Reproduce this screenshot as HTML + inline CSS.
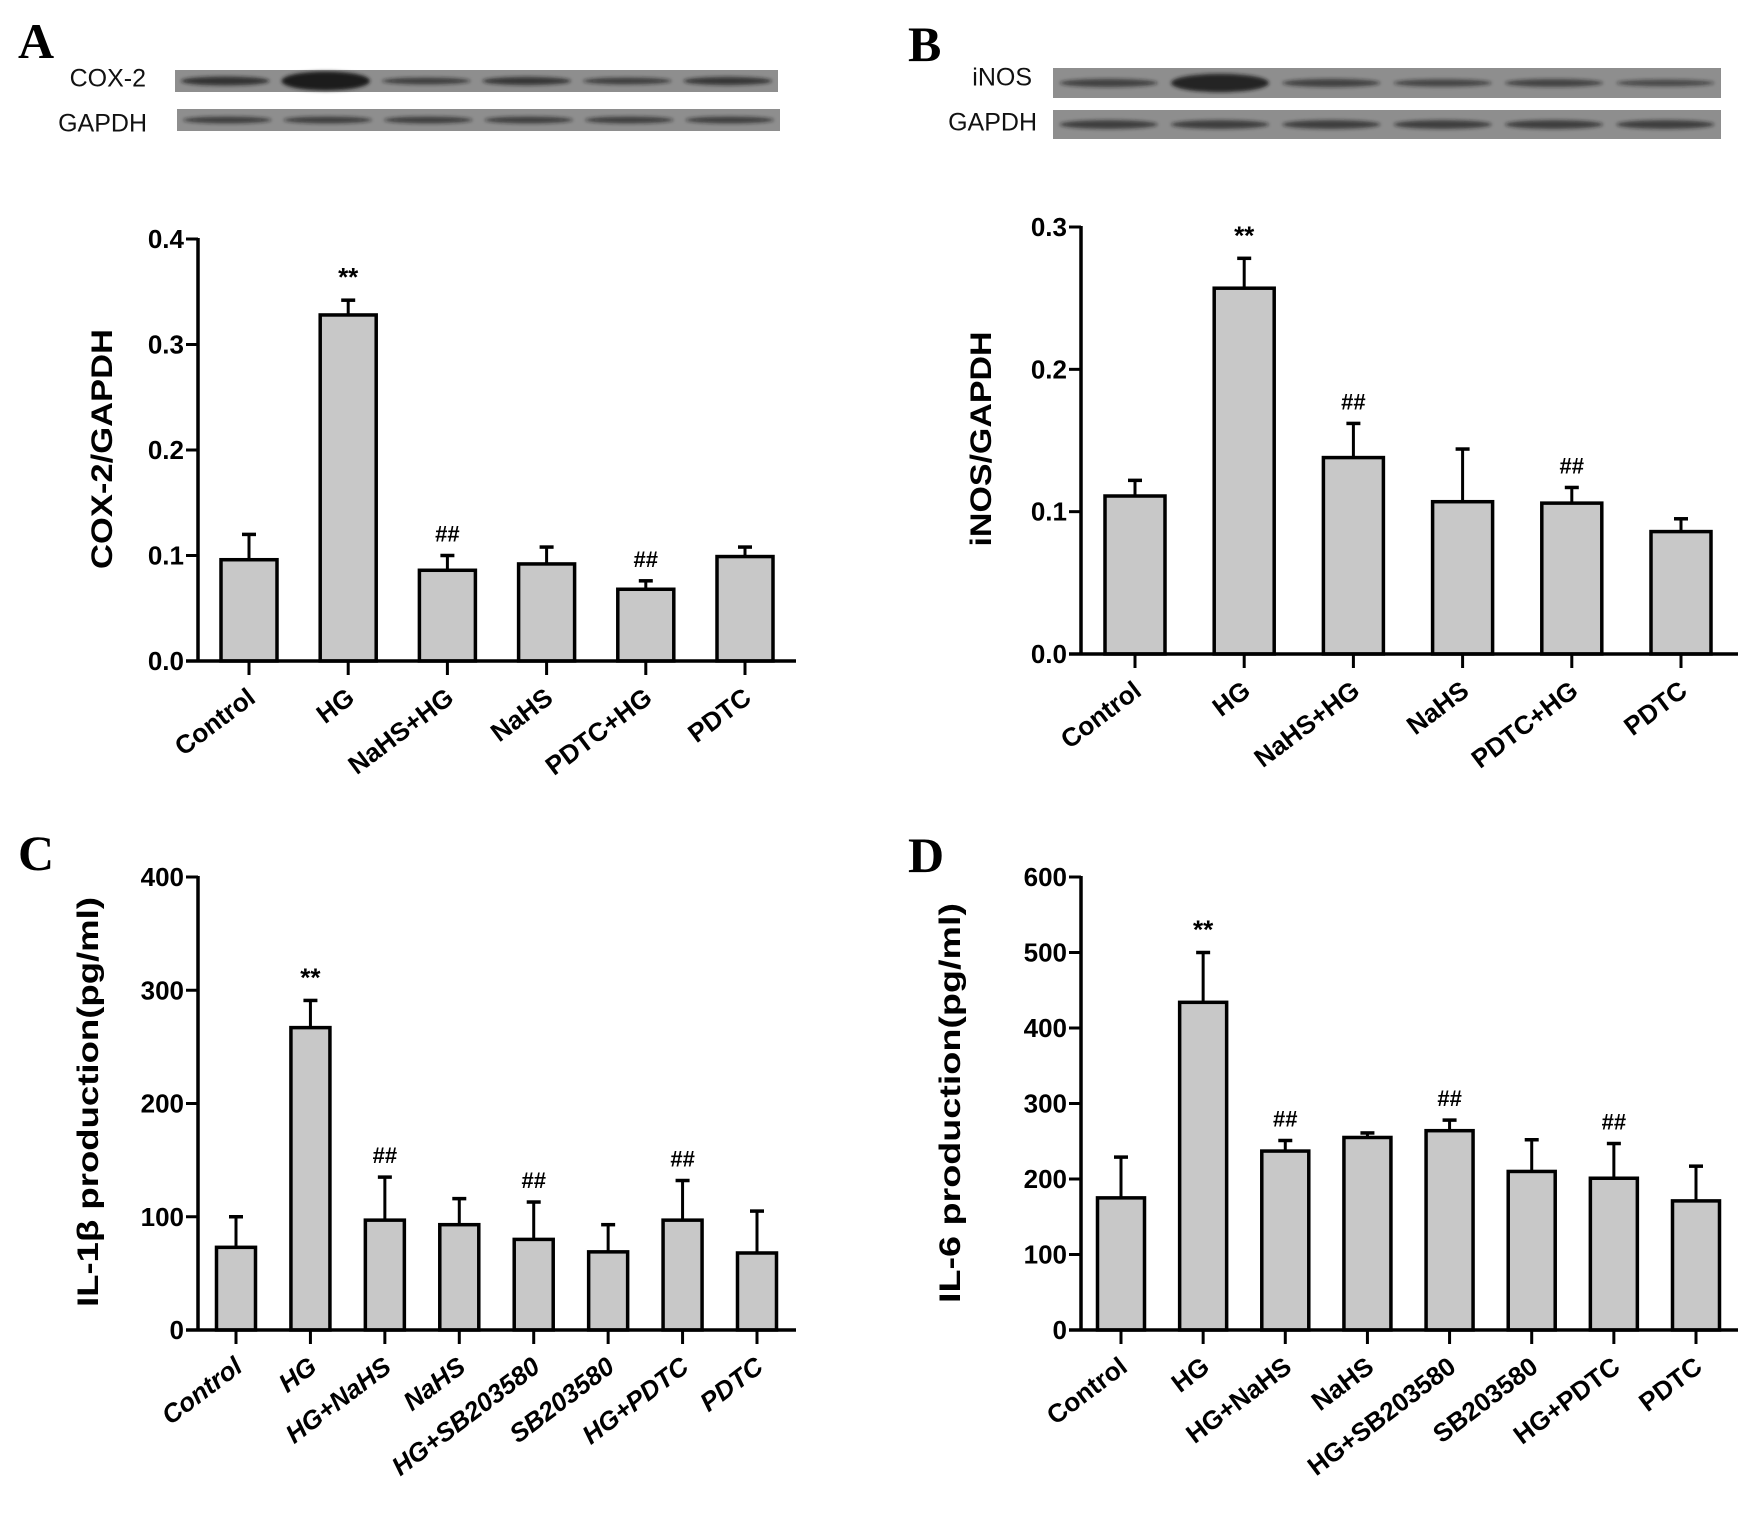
<!DOCTYPE html>
<html><head><meta charset="utf-8"><style>
html,body{margin:0;padding:0;background:#fff;}
svg{display:block;}
text{font-family:"Liberation Sans",Arial,sans-serif;}
text.serif{font-family:"Liberation Serif","Times New Roman",serif;}
</style></head><body>
<svg id="fig" width="1752" height="1517" viewBox="0 0 1752 1517" xmlns="http://www.w3.org/2000/svg">
<defs>
<filter id="blur" x="-20%" y="-200%" width="140%" height="500%"><feGaussianBlur stdDeviation="1.8"/></filter>
</defs>
<g font-weight="bold" font-size="50">
<text class="serif" x="18" y="58">A</text>
<text class="serif" x="908" y="61">B</text>
<text class="serif" x="18" y="870">C</text>
<text class="serif" x="908" y="872">D</text>
</g>
<g id="blots"></g>
<g id="charts"></g>
</svg>
<script>
// ---- Panel A data ----
const catsA = ["Control","HG","NaHS+HG","NaHS","PDTC+HG","PDTC"];
const valsA = [0.096,0.328,0.086,0.092,0.068,0.099];
const errA = [0.120,0.342,0.100,0.108,0.076,0.108];
const marksA = ["","**","##","","##",""];
const ticksA = [0,0.1,0.2,0.3,0.4];
const tickLabelsA = ["0.0","0.1","0.2","0.3","0.4"];
// ---- Panel B data ----
const catsB = ["Control","HG","NaHS+HG","NaHS","PDTC+HG","PDTC"];
const valsB = [0.111,0.257,0.138,0.107,0.106,0.086];
const errB = [0.122,0.278,0.162,0.144,0.117,0.095];
const marksB = ["","**","##","","##",""];
const ticksB = [0,0.1,0.2,0.3];
const tickLabelsB = ["0.0","0.1","0.2","0.3"];
// ---- Panel C data ----
const catsC = ["Control","HG","HG+NaHS","NaHS","HG+SB203580","SB203580","HG+PDTC","PDTC"];
const valsC = [73,267,97,93,80,69,97,68];
const errC = [100,291,135,116,113,93,132,105];
const marksC = ["","**","##","","##","","##",""];
const ticksC = [0,100,200,300,400];
const tickLabelsC = ["0","100","200","300","400"];
// ---- Panel D data ----
const catsD = ["Control","HG","HG+NaHS","NaHS","HG+SB203580","SB203580","HG+PDTC","PDTC"];
const valsD = [175,434,237,255,264,210,201,171];
const errD = [229,500,251,261,278,252,247,217];
const marksD = ["","**","##","","##","","##",""];
const ticksD = [0,100,200,300,400,500,600];
const tickLabelsD = ["0","100","200","300","400","500","600"];
// blot band intensities (0-1)
const bandsCOX = [0.6,1.0,0.45,0.55,0.45,0.55];
const bandsINOS = [0.4,0.8,0.4,0.35,0.38,0.3];
const bandsGAPDH = [0.45,0.45,0.45,0.45,0.45,0.45];

const NS="http://www.w3.org/2000/svg";
function mk(tag,attrs,parent){const e=document.createElementNS(NS,tag);for(const k in attrs)e.setAttribute(k,attrs[k]);parent.appendChild(e);return e;}

function blot(label,x0,x1,y0,y1,lx,ly,bands,name){
  const g=mk('g',{},document.getElementById('blots'));
  
  
  const t=mk('text',{x:lx,y:ly,'font-size':25,'text-anchor':'end','dominant-baseline':'middle',fill:'#111'},g);
  t.textContent=label;
  
  
  const r=mk('rect',{x:x0,y:y0,width:x1-x0,height:y1-y0,fill:'#8e8e8e'},g);
  
  
  const w=(x1-x0)/bands.length, cy=(y0+y1)/2, h=y1-y0;
  bands.forEach((b,i)=>{
    const e=mk('ellipse',{cx:x0+w*(i+0.5),cy:cy,rx:w*0.44,ry:h*0.08+h*0.35*b*b,fill:'#1a1a1a','fill-opacity':0.45+0.55*b,filter:'url(#blur)'},g);
    
    
  });
}
blot('COX-2',175,778,70,92,146,80,bandsCOX,'cox2-blot');
blot('GAPDH',177,780,109,131,147,125,bandsGAPDH,'gapdh-blot-a');
blot('iNOS',1053,1721,68,98,1032,79,bandsINOS,'inos-blot');
blot('GAPDH',1053,1721,110,139,1037,124,bandsGAPDH,'gapdh-blot-b');

function chart(o){
  const g=mk('g',{},document.getElementById('charts'));
  
  
  const ymax=o.ticks[o.ticks.length-1];
  const Y=v=>o.y0-(o.y0-o.ytop)*v/ymax;
  const n=o.cats.length;
  const X=i=>o.c0+(o.c1-o.c0)*i/(n-1);
  o.vals.forEach((v,i)=>{
    const cx=X(i);
    const eb=mk('line',{x1:cx,x2:cx,y1:Y(v),y2:Y(o.err[i]),stroke:'#000','stroke-width':3},g);
    
    
    const cap=mk('line',{x1:cx-7,x2:cx+7,y1:Y(o.err[i]),y2:Y(o.err[i]),stroke:'#000','stroke-width':3.5},g);
    
    
    const b=mk('rect',{x:cx-o.bw/2,y:Y(v),width:o.bw,height:o.y0-Y(v),fill:'#c8c8c8',stroke:'#000','stroke-width':3.5},g);
    
    
    if(o.marks[i]){
      const m=mk('text',{x:cx,y:Y(o.err[i])-14,'text-anchor':'middle','font-size':o.marks[i]=='**'?26:22,'font-weight':'bold'},g);
      m.textContent=o.marks[i];
      
      
    }
    const tk=mk('line',{x1:cx,x2:cx,y1:o.y0,y2:o.y0+14,stroke:'#000','stroke-width':3},g);
    
    
    const lx=cx+8, ly=o.y0+40;
    const lab=mk('text',{x:lx,y:ly,'text-anchor':'end','font-size':26,'font-weight':'bold','font-style':o.italic?'italic':'normal',transform:`rotate(-37 ${lx} ${ly})`},g);
    lab.textContent=o.cats[i];
    
    
  });
  const ya=mk('line',{x1:o.ax,x2:o.ax,y1:o.ytop-1,y2:o.y0+1.5,stroke:'#000','stroke-width':3.5},g);
  
  
  const xa=mk('line',{x1:o.ax-12,x2:o.xend,y1:o.y0,y2:o.y0,stroke:'#000','stroke-width':3.5},g);
  
  
  o.ticks.forEach((t,i)=>{
    const tl=mk('line',{x1:o.ax-12,x2:o.ax,y1:Y(t),y2:Y(t),stroke:'#000','stroke-width':3},g);
    
    
    const tt=mk('text',{x:o.ax-14,y:Y(t)+9,'text-anchor':'end','font-size':26,'font-weight':'bold'},g);
    tt.textContent=o.tickLabels[i];
    
    
  });
  const ti=mk('text',{x:o.tx,y:o.ty,'text-anchor':'middle','dominant-baseline':'middle','font-size':30,'font-weight':'bold',transform:`rotate(-90 ${o.tx} ${o.ty})`,textLength:o.tlen,lengthAdjust:'spacingAndGlyphs'},g);
  ti.textContent=o.title;
  
  
}
chart({name:'chart-a-cox2',cats:catsA,vals:valsA,err:errA,marks:marksA,ticks:ticksA,tickLabels:tickLabelsA,
  ax:198,y0:661,ytop:239,xend:796,c0:249,c1:745,bw:56,tx:104,ty:449,tlen:240,title:'COX-2/GAPDH'});
chart({name:'chart-b-inos',cats:catsB,vals:valsB,err:errB,marks:marksB,ticks:ticksB,tickLabels:tickLabelsB,
  ax:1081,y0:654,ytop:227,xend:1738,c0:1135,c1:1681,bw:60,tx:983,ty:439,tlen:215,title:'iNOS/GAPDH'});
chart({name:'chart-c-il1b',cats:catsC,vals:valsC,err:errC,marks:marksC,ticks:ticksC,tickLabels:tickLabelsC,italic:true,
  ax:198,y0:1330,ytop:877,xend:796,c0:236,c1:757,bw:39,tx:90,ty:1102,tlen:410,title:'IL-1β production(pg/ml)'});
chart({name:'chart-d-il6',cats:catsD,vals:valsD,err:errD,marks:marksD,ticks:ticksD,tickLabels:tickLabelsD,
  ax:1081,y0:1330,ytop:877,xend:1738,c0:1121,c1:1696,bw:47,tx:952,ty:1103,tlen:400,title:'IL-6 production(pg/ml)'});
</script>
</body></html>
